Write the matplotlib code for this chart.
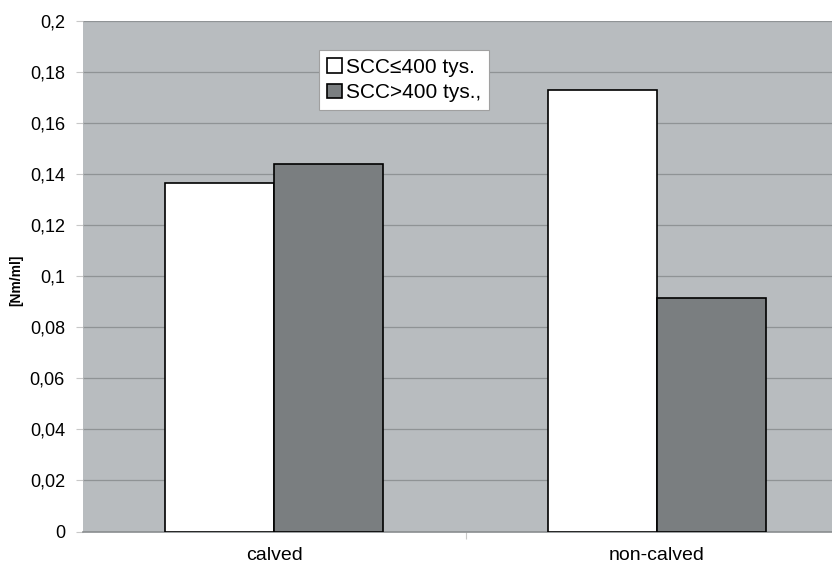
import matplotlib
matplotlib.use("Agg")
import matplotlib.pyplot as plt
import numpy as np

categories = ["calved", "non-calved"]
series_names = ["SCC≤400 tys.", "SCC>400 tys.,"]
low_scc = [0.1364, 0.1730]
high_scc = [0.1440, 0.0913]
yticks = [0, 0.02, 0.04, 0.06, 0.08, 0.1, 0.12, 0.14, 0.16, 0.18, 0.2]
ytick_labels = ["0", "0,02", "0,04", "0,06", "0,08", "0,1", "0,12", "0,14", "0,16", "0,18", "0,2"]

plt.rcParams['font.family'] = ['Liberation Sans', 'DejaVu Sans']

fig = plt.figure(figsize=(8.32, 5.71), dpi=100)
W, H = 832, 571
left, right, top, bottom = 83, 848, 21, 531.5
ax = fig.add_axes([left / W, 1 - bottom / H, (right - left) / W, (bottom - top) / H])
ax.set_facecolor('#b8bcbf')

x = np.array([0.5, 1.5])
bw = 0.285
ax.bar(x - bw / 2, low_scc, bw, color='white', edgecolor='black', linewidth=1.2,
       label=series_names[0], zorder=3)
ax.bar(x + bw / 2, high_scc, bw, color='#7a7e80', edgecolor='black', linewidth=1.2,
       label=series_names[1], zorder=3)

ax.set_xlim(0, 2)
ax.set_ylim(0, 0.2)
ax.set_yticks(yticks)
ax.set_yticklabels(ytick_labels, fontsize=13)
ax.yaxis.grid(True, color='#8f9395', linewidth=0.9, zorder=1)
ax.set_xticks([1.0], minor=False)
ax.set_xticklabels([""])
ax.set_xticks(x, minor=True)
ax.set_xticklabels(categories, minor=True, fontsize=14)
ax.tick_params(axis='x', which='minor', length=0, pad=11)
ax.tick_params(axis='x', which='major', length=5, color='#c8c8c8', width=0.8)
ax.tick_params(axis='y', length=5, color='#c8c8c8', width=0.8, pad=8)

for s in ['top', 'right', 'left']:
    ax.spines[s].set_visible(False)
ax.spines['bottom'].set_color('#8a8e90')
ax.spines['bottom'].set_linewidth(1.2)

fig.text(16 / W, 1 - 280 / H, "[Nm/ml]", rotation=90, fontsize=10, fontweight='bold',
         ha='center', va='center')

leg = ax.legend(loc='upper left', bbox_to_anchor=((319 - left) / (right - left), 1 - (50 - top) / (bottom - top)),
                fontsize=15, frameon=True, fancybox=False, handlelength=0.7, handleheight=0.7,
                handletextpad=0.2, borderpad=0.38, labelspacing=0.3, borderaxespad=0)
leg.get_frame().set_edgecolor('#a0a0a0')
leg.get_frame().set_linewidth(0.8)
leg.get_frame().set_facecolor('white')
leg.get_frame().set_alpha(1)

fig.savefig("out.png", dpi=100)
